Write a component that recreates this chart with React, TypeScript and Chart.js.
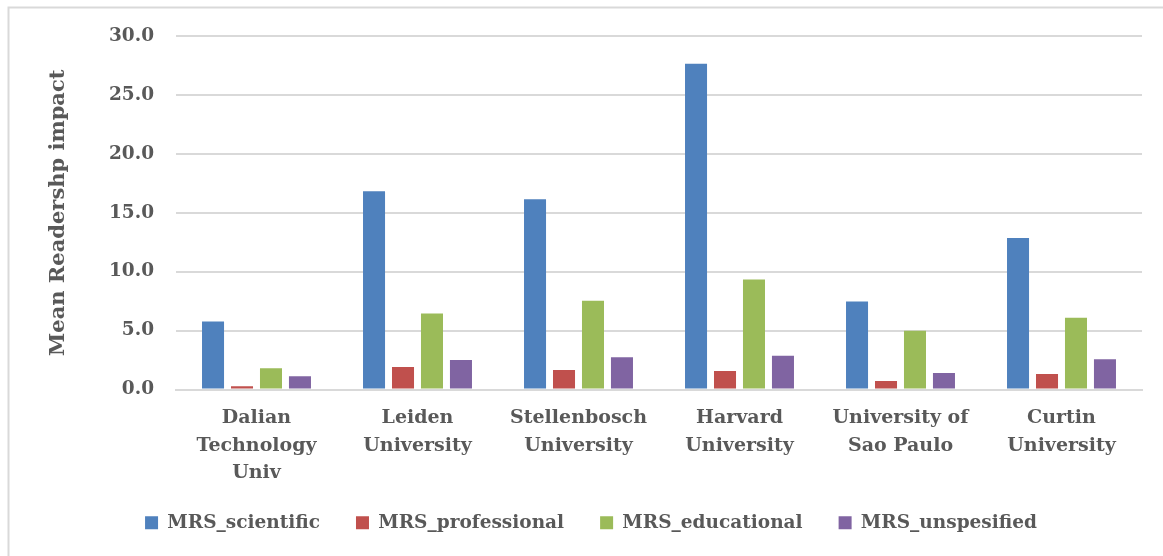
import React, { useEffect, useRef } from "react";
import { Chart, registerables } from "chart.js";

Chart.register(...registerables);

const categories: string[][] = [
  ["Dalian", "Technology", "Univ"],
  ["Leiden", "University"],
  ["Stellenbosch", "University"],
  ["Harvard", "University"],
  ["University of", "Sao Paulo"],
  ["Curtin", "University"],
];

const seriesNames = ["MRS_scientific", "MRS_professional", "MRS_educational", "MRS_unspesified"];
const scientific = [5.78, 16.83, 16.15, 27.65, 7.46, 12.85];
const professional = [0.27, 1.92, 1.66, 1.58, 0.72, 1.32];
const educational = [1.8, 6.46, 7.54, 9.33, 4.99, 6.09];
const unspecified = [1.12, 2.51, 2.74, 2.86, 1.41, 2.57];
const colors = ["#4F81BD", "#C0504D", "#9BBB59", "#8064A2"];

const yTitle = "Mean Readershp impact";
const FONT = "'DejaVu Serif', serif";
const TEXT = "#595959";
const GRID = "#D9D9D9";

const framePlugin = {
  id: "frame",
  beforeDraw(chart: any) {
    const ctx = chart.ctx;
    ctx.save();
    ctx.fillStyle = "#ffffff";
    ctx.fillRect(0, 0, chart.width, chart.height);
    ctx.strokeStyle = GRID;
    ctx.lineWidth = 2;
    ctx.strokeRect(8.5, 7.5, 1300, 700);
    ctx.restore();
  },
};

const legendShiftPlugin = {
  id: "legendShift",
  afterLayout(chart: any) {
    const lg = chart.legend;
    if (lg) {
      lg.top -= 13;
      lg.bottom -= 13;
    }
  },
};

export default function App() {
  const ref = useRef<HTMLCanvasElement | null>(null);
  useEffect(() => {
    if (!ref.current) return;
    const all = [scientific, professional, educational, unspecified];
    const chart = new Chart(ref.current, {
      type: "bar",
      data: {
        labels: categories,
        datasets: all.map((d, i) => ({
          label: seriesNames[i],
          data: d,
          backgroundColor: colors[i],
          borderWidth: 0,
          categoryPercentage: 0.72,
          barPercentage: 0.76,
        })),
      },
      options: {
        responsive: false,
        animation: false,
        layout: { padding: { left: 40, right: 21, top: 36, bottom: 1 } },
        plugins: {
          tooltip: { enabled: false },
          legend: {
            position: "bottom",
            labels: {
              boxWidth: 13,
              boxHeight: 13,
              padding: 36,
              color: TEXT,
              font: { family: FONT, size: 18.5, weight: "bold" },
            },
          },
        },
        scales: {
          x: {
            grid: { display: false, drawTicks: false },
            border: { display: true, color: GRID, width: 2 },
            ticks: {
              color: TEXT,
              padding: 15,
              maxRotation: 0,
              autoSkip: false,
              font: { family: FONT, size: 19, weight: "bold", lineHeight: 1.45 },
            },
            afterFit: (s: any) => {
              s.height = 101;
            },
          },
          y: {
            min: 0,
            max: 30,
            grid: { color: GRID, lineWidth: 2, drawTicks: false },
            border: { display: false },
            ticks: {
              stepSize: 5,
              color: TEXT,
              padding: 22,
              font: { family: FONT, size: 18.5, weight: "bold" },
              callback: (v: any) => Number(v).toFixed(1),
            },
            title: {
              display: true,
              text: yTitle,
              color: TEXT,
              padding: { top: 6, bottom: 0 },
              font: { family: FONT, size: 21, weight: "bold" },
            },
            afterFit: (s: any) => {
              s.width = 136;
            },
          },
        },
      },
      plugins: [framePlugin, legendShiftPlugin],
    });
    return () => chart.destroy();
  }, []);
  return (
    <div style={{ position: "fixed", left: 0, top: 0, width: 1163, height: 556 }}>
      <canvas ref={ref} width={1163} height={556} style={{ width: 1163, height: 556 }} />
    </div>
  );
}
